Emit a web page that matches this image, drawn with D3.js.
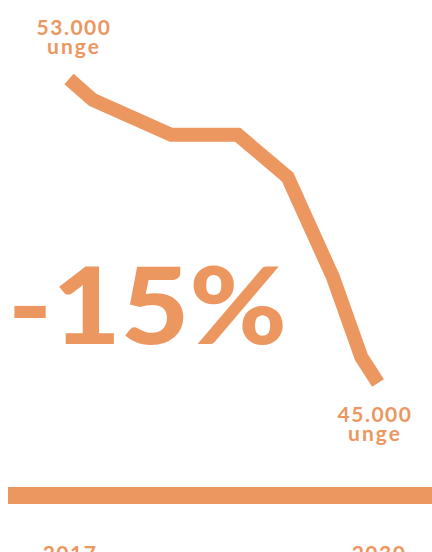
<!DOCTYPE html>
<html>
<head>
<meta charset="utf-8">
<script src="https://cdn.jsdelivr.net/npm/d3@7"></script>
<style>
    body { margin: 0; background: #fff; }
    svg text { font-family: Lato, "Open Sans", sans-serif; fill: #ec9660; }
</style>
</head>
<body>
<svg id="chart" width="432" height="552"></svg>
<script>
// values (years, young people)
let years = [2017, 2018, 2021.3, 2024.1, 2026.2, 2028.1, 2029.3, 2030]
let unge = [53000, 52450, 51530, 51530, 50420, 47790, 45680, 45000]
let endLabels = ["53.000", "45.000"]
let unit = "unge"
let tickYears = [2017, 2030]
let change = "-15%"

let color = "#ec9660"
let svg = d3.select("svg#chart")

let x = d3.scaleLinear().domain([2017, 2030]).range([69, 378])
let y = d3.scaleLinear().domain([45000, 53000]).range([383, 79])

let data = years.map((yr, i) => ({year: yr, value: unge[i]}))

let line = d3.line()
    .x(d => x(d.year))
    .y(d => y(d.value))

svg.append("path")
    .datum(data)
    .attr("fill", "none")
    .attr("stroke", color)
    .attr("stroke-width", 14)
    .attr("stroke-linejoin", "miter")
    .attr("stroke-linecap", "butt")
    .attr("d", line)

// baseline bar doubles as the x axis
svg.append("rect")
    .attr("x", 8)
    .attr("y", 487)
    .attr("width", 432 - 8)
    .attr("height", 17)
    .attr("fill", color)

svg.append("g")
    .selectAll("text")
    .data(tickYears)
    .join("text")
        .attr("x", d => x(d) + 1)
        .attr("y", 561)
        .attr("text-anchor", "middle")
        .attr("font-size", 21)
        .attr("font-weight", 700)
        .attr("letter-spacing", 1.5)
        .text(d => d)

// start / end labels, number above and unit below
let ends = [data[0], data[data.length - 1]]
let labelPos = [{dx: 5, top: 35}, {dx: -3, top: 422}]
let labels = svg.append("g")
    .selectAll("g")
    .data(ends)
    .join("g")
labels.append("text")
    .attr("text-anchor", "middle")
    .attr("font-size", 21)
    .attr("font-weight", 700)
    .attr("letter-spacing", 1.5)
    .attr("x", (d, i) => x(d.year) + labelPos[i].dx)
    .attr("y", (d, i) => labelPos[i].top)
    .text((d, i) => endLabels[i])
labels.append("text")
    .attr("text-anchor", "middle")
    .attr("font-size", 21)
    .attr("font-weight", 700)
    .attr("letter-spacing", 2)
    .attr("x", (d, i) => x(d.year) + labelPos[i].dx)
    .attr("y", (d, i) => labelPos[i].top + 19)
    .text(unit)

svg.append("text")
    .attr("x", 8)
    .attr("y", 344)
    .attr("font-size", 106)
    .attr("font-weight", 900)
    .attr("textLength", 279)
    .attr("lengthAdjust", "spacingAndGlyphs")
    .text(change)
</script>
</body>
</html>
